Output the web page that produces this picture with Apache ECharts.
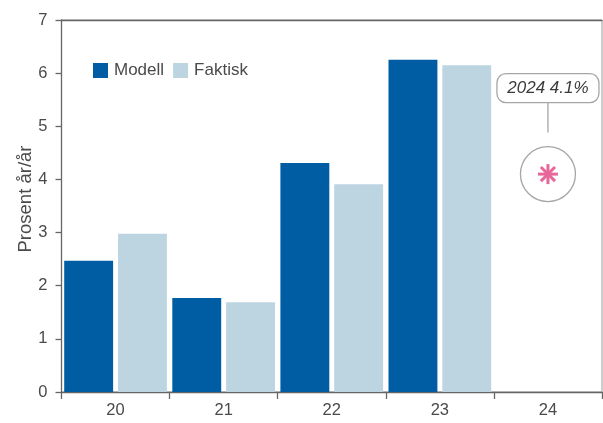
<!DOCTYPE html>
<html>
<head>
<meta charset="utf-8">
<script src="https://cdn.jsdelivr.net/npm/echarts@6/dist/echarts.min.js"></script>
<style>
  html, body { margin: 0; padding: 0; background: #fff; }
  #chart { width: 603px; height: 423px; }
</style>
</head>
<body>
<div id="chart"></div>
<script>
// Year labels (two-digit) along the category axis
const years = ['20', '21', '22', '23', '24'];
// Model-implied growth, percent year on year
const modell = [2.47, 1.77, 4.31, 6.25, null];
// Actual outcome, percent year on year
const faktisk = [2.98, 1.69, 3.91, 6.15, null];
// Projection for 2024
const projYear = '24';
const projValue = 4.1;
const projLabel = '2024 4.1%';
const yTicks = [0, 1, 2, 3, 4, 5, 6, 7];

const textColor = '#4a4a4a';
const font = 'Liberation Sans, Arial, sans-serif';

const chart = echarts.init(document.getElementById('chart'), null, { renderer: 'canvas' });

// Draws the projection marker: circle with asterisk, connector and label bubble
function renderProjection(params, api) {
  const p = api.coord([api.value(0), api.value(1)]);
  const cx = p[0], cy = p[1];
  const r = 27.5;
  const arm = 10, d = 7.07;
  const bubbleW = 102, bubbleH = 29;
  const bubbleCy = cy - 86;
  const star = { stroke: '#e8669a', lineWidth: 3, fill: null };
  return {
    type: 'group',
    children: [
      {
        type: 'circle',
        shape: { cx: cx, cy: cy, r: r },
        style: { fill: '#fff', stroke: '#a6a6a6', lineWidth: 1.3 }
      },
      { type: 'polyline', shape: { points: [[cx, cy - arm], [cx, cy + arm]] }, style: star },
      { type: 'polyline', shape: { points: [[cx - arm, cy], [cx + arm, cy]] }, style: star },
      { type: 'polyline', shape: { points: [[cx - d, cy - d], [cx + d, cy + d]] }, style: star },
      { type: 'polyline', shape: { points: [[cx - d, cy + d], [cx + d, cy - d]] }, style: star },
      {
        type: 'line',
        shape: { x1: cx, y1: bubbleCy + bubbleH / 2, x2: cx, y2: cy - r - 14 },
        style: { stroke: '#a6a6a6', lineWidth: 1.3 }
      },
      {
        type: 'rect',
        shape: { x: cx - bubbleW / 2, y: bubbleCy - bubbleH / 2, width: bubbleW, height: bubbleH, r: 9 },
        style: { fill: '#fff', stroke: '#a6a6a6', lineWidth: 1.3 }
      },
      {
        type: 'text',
        x: cx, y: bubbleCy,
        style: {
          text: projLabel,
          fill: '#3a3a3a',
          font: 'italic 17px ' + font,
          align: 'center',
          verticalAlign: 'middle'
        }
      }
    ]
  };
}

chart.setOption({
  animation: false,
  textStyle: { fontFamily: font },
  grid: {
    left: 61.5, right: 1, top: 20, bottom: 31,
    show: true, borderColor: '#9a9a9a', borderWidth: 1
  },
  legend: {
    left: 93, top: 62, padding: 0,
    icon: 'rect', itemWidth: 15, itemHeight: 15, itemGap: 9,
    textStyle: { fontSize: 17, color: textColor, padding: [0, 0, 0, 1] },
    data: ['Modell', 'Faktisk']
  },
  xAxis: [
    {
      type: 'category',
      data: years,
      axisLine: { lineStyle: { color: '#666', width: 1.3 } },
      axisTick: { show: true, alignWithLabel: false, length: 7, lineStyle: { color: '#666', width: 1.3 } },
      axisLabel: { fontSize: 16.5, color: textColor, margin: 10 },
      splitLine: { show: false }
    },
    {
      // plain frame line along the top edge
      type: 'category',
      data: years,
      position: 'top',
      axisLine: { lineStyle: { color: '#666', width: 1.3 } },
      axisTick: { show: false },
      axisLabel: { show: false },
      splitLine: { show: false }
    }
  ],
  yAxis: {
    type: 'value',
    min: yTicks[0], max: yTicks[yTicks.length - 1], interval: 1,
    name: 'Prosent år/år',
    nameLocation: 'middle',
    nameGap: 26,
    nameMoveOverlap: false,
    nameTextStyle: { fontSize: 18.5, color: textColor, padding: [0, 0, 0, 14] },
    axisLine: { show: true, lineStyle: { color: '#666', width: 1.3 } },
    axisTick: { show: true, length: 6, lineStyle: { color: '#666', width: 1.3 } },
    axisLabel: { fontSize: 16.5, color: textColor, margin: 14 },
    splitLine: { show: false }
  },
  series: [
    {
      name: 'Modell', type: 'bar', data: modell,
      barGap: '10%', barCategoryGap: '5%',
      itemStyle: { color: '#005da3' }
    },
    {
      name: 'Faktisk', type: 'bar', data: faktisk,
      itemStyle: { color: '#bcd5e0' }
    },
    {
      name: 'Projeksjon', type: 'custom',
      data: [[projYear, projValue]],
      renderItem: renderProjection,
      z: 5
    }
  ]
});
</script>
</body>
</html>
